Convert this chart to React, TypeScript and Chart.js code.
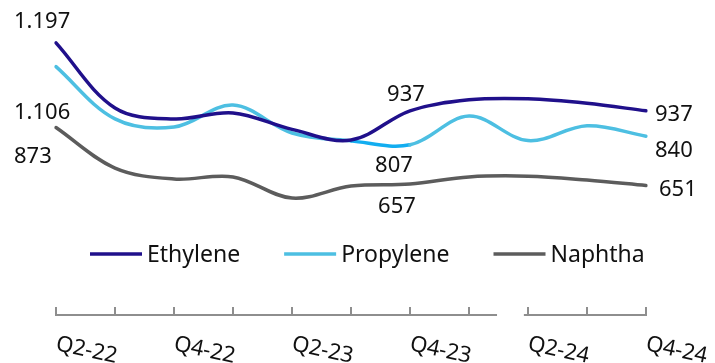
import React, { useEffect, useRef } from "react";
import { Chart, registerables } from "chart.js";

Chart.register(...registerables);

// Quarterly price series
const quarters = ["Q2-22", "Q3-22", "Q4-22", "Q1-23", "Q2-23", "Q3-23", "Q4-23", "Q1-24", "Q2-24", "Q3-24", "Q4-24"];
const ethylene = [1197, 948, 906, 929, 866, 825, 937, 979, 983, 966, 937];
const propylene = [1106, 906, 875, 959, 852, 822, 807, 917, 823, 880, 840];
const naphtha = [873, 718, 676, 684, 603, 649, 657, 684, 687, 672, 651];
const seriesNames = ["Ethylene", "Propylene", "Naphtha"];

// Points that carry a value label
const labeledPoints = [0, 6, 10];

const FONT = '"Noto Sans", "Open Sans", sans-serif';
const COLORS = ["#20108b", "#4dbfe2", "#5c5c5c"];
const PROPYLENE_HIGHLIGHT = "#12adf0";

// Label placement relative to each labelled point: [dx, dy(baseline), align]
const labelPlacement: Record<number, Record<number, [number, number, CanvasTextAlign]>> = {
  0: { 0: [-42, -15, "left"], 6: [-4, -10, "center"], 10: [9, 10, "left"] },
  1: { 0: [-42, 52, "left"], 6: [-16, 27, "center"], 10: [9, 21, "left"] },
  2: { 0: [-42, 35, "left"], 6: [-13, 29, "center"], 10: [13, 10, "left"] },
};

const formatValue = (n: number) =>
  n >= 1000 ? `${Math.floor(n / 1000)}.${String(n % 1000).padStart(3, "0")}` : String(n);

// Value labels next to selected points
const valueLabels = {
  id: "valueLabels",
  afterDatasetsDraw(chart: any) {
    const ctx = chart.ctx as CanvasRenderingContext2D;
    ctx.save();
    ctx.font = `22px ${FONT}`;
    ctx.fillStyle = "#111111";
    ctx.textBaseline = "alphabetic";
    chart.data.datasets.forEach((ds: any, di: number) => {
      const meta = chart.getDatasetMeta(di);
      labeledPoints.forEach((i) => {
        const pt = meta.data[i];
        const place = labelPlacement[di][i];
        if (!pt || !place) return;
        ctx.textAlign = place[2];
        ctx.fillText(formatValue(ds.data[i]), pt.x + place[0], pt.y + place[1]);
      });
    });
    ctx.restore();
  },
};

// Category axis along the bottom, with a break between Q1-24 and Q2-24
const bottomAxis = {
  id: "bottomAxis",
  afterDraw(chart: any) {
    const ctx = chart.ctx as CanvasRenderingContext2D;
    const xs = chart.scales.x;
    const n = chart.data.labels.length;
    const px = (i: number) => xs.getPixelForValue(i);
    const step = px(1) - px(0);
    const axisY = 315;
    const breakStart = px(7) + step * 0.475;
    const breakEnd = px(8) - step * 0.07;
    ctx.save();
    ctx.strokeStyle = "#8e8e8e";
    ctx.lineWidth = 2;
    ctx.beginPath();
    ctx.moveTo(px(0) - 1, axisY);
    ctx.lineTo(breakStart, axisY);
    ctx.moveTo(breakEnd, axisY);
    ctx.lineTo(px(n - 1) + 1, axisY);
    for (let i = 0; i < n; i++) {
      const x = Math.round(px(i));
      ctx.moveTo(x, axisY);
      ctx.lineTo(x, axisY - 8);
    }
    ctx.stroke();

    ctx.fillStyle = "#111111";
    ctx.font = `22px ${FONT}`;
    ctx.textAlign = "left";
    ctx.textBaseline = "alphabetic";
    for (let i = 0; i < n; i += 2) {
      ctx.save();
      ctx.translate(px(i) - 1, 350);
      ctx.rotate((12 * Math.PI) / 180);
      ctx.fillText(chart.data.labels[i], 0, 0);
      ctx.restore();
    }
    ctx.restore();
  },
};

// Legend row between the plot and the axis
const lineLegend = {
  id: "lineLegend",
  afterDraw(chart: any) {
    const ctx = chart.ctx as CanvasRenderingContext2D;
    ctx.save();
    ctx.font = `23px ${FONT}`;
    ctx.textBaseline = "alphabetic";
    ctx.textAlign = "left";
    let x = 90;
    const lineY = 254;
    chart.data.datasets.forEach((ds: any) => {
      ctx.strokeStyle = ds.borderColor;
      ctx.lineWidth = 3.5;
      ctx.beginPath();
      ctx.moveTo(x, lineY);
      ctx.lineTo(x + 52, lineY);
      ctx.stroke();
      ctx.fillStyle = "#111111";
      ctx.fillText(ds.label, x + 57, 262);
      x += 57 + ctx.measureText(ds.label).width + 44;
    });
    ctx.restore();
  },
};

export default function App() {
  const canvasRef = useRef<HTMLCanvasElement | null>(null);

  useEffect(() => {
    if (!canvasRef.current) return;
    const series = [ethylene, propylene, naphtha];
    const chart = new Chart(canvasRef.current, {
      type: "line",
      data: {
        labels: quarters,
        datasets: series.map((data, i) => ({
          label: seriesNames[i],
          data,
          borderColor: COLORS[i],
          backgroundColor: COLORS[i],
          borderWidth: 3.5,
          tension: 0.35,
          pointRadius: 0,
          fill: false,
          borderCapStyle: "round" as const,
          segment:
            i === 1
              ? { borderColor: (c: any) => (c.p0DataIndex === 5 ? PROPYLENE_HIGHLIGHT : undefined) }
              : undefined,
        })),
      },
      options: {
        responsive: false,
        animation: false,
        events: [],
        layout: { padding: { left: 56, right: 69, top: 16, bottom: 138 } },
        scales: {
          x: { display: false },
          y: { display: false, min: 500, max: 1300 },
        },
        plugins: {
          legend: { display: false },
          tooltip: { enabled: false },
        },
      },
      plugins: [valueLabels, bottomAxis, lineLegend],
    });
    return () => chart.destroy();
  }, []);

  return (
    <div style={{ position: "fixed", left: 0, top: 0, width: 715, height: 363, background: "#ffffff" }}>
      <canvas ref={canvasRef} width={715} height={363} style={{ display: "block", width: 715, height: 363 }} />
    </div>
  );
}
